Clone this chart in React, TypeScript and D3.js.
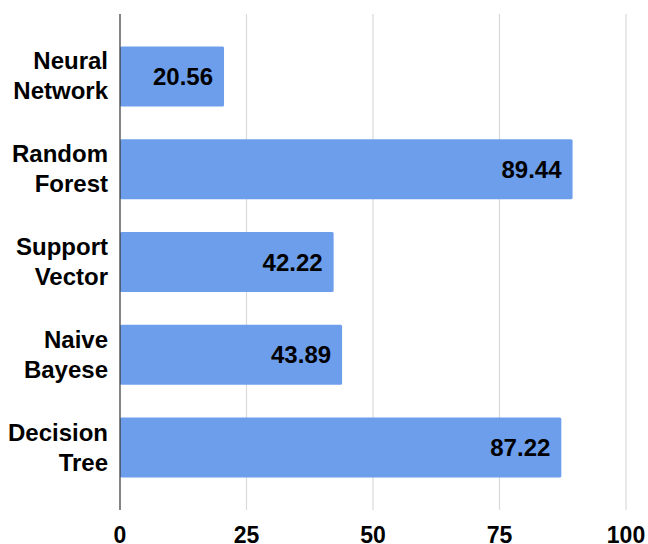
import React from "react";
import * as d3 from "d3";

const categories: string[][] = [
  ["Neural", "Network"],
  ["Random", "Forest"],
  ["Support", "Vector"],
  ["Naive", "Bayese"],
  ["Decision", "Tree"],
];
const values: number[] = [20.56, 89.44, 42.22, 43.89, 87.22];
const ticks: number[] = [0, 25, 50, 75, 100];

const W = 648;
const H = 544;
const left = 120;
const right = 626;
const top = 14;
const bottom = 510;
const font = "'Liberation Sans', Arial, Helvetica, sans-serif";

export default function App() {
  const keys = categories.map((c) => c.join(" "));
  const x = d3.scaleLinear().domain([0, 100]).range([left, right]);
  const y = d3
    .scaleBand<string>()
    .domain(keys)
    .range([top, bottom])
    .paddingInner(0.353)
    .paddingOuter(0.35);

  return (
    <svg
      width={W}
      height={H}
      style={{ position: "absolute", left: 0, top: 0 }}
      fontFamily={font}
    >
      <rect x={0} y={0} width={W} height={H} fill="#fff" />
      {ticks.slice(1).map((t) => (
        <line
          key={t}
          x1={x(t)}
          x2={x(t)}
          y1={top}
          y2={bottom}
          stroke="#d9d9d9"
          strokeWidth={1.2}
        />
      ))}
      {values.map((v, i) => {
        const yy = y(keys[i])!;
        const bw = y.bandwidth();
        const cy = yy + bw / 2;
        return (
          <g key={keys[i]}>
            <rect
              x={x(0)}
              y={yy}
              width={x(v) - x(0)}
              height={bw}
              fill="#6d9eeb"
              rx={1.5}
            />
            <text
              x={x(v) - 11}
              y={cy + 8.5}
              textAnchor="end"
              fontSize={24}
              fontWeight="bold"
              fill="#000"
            >
              {v.toFixed(2)}
            </text>
            <text
              x={108}
              y={cy - 7}
              textAnchor="end"
              fontSize={24}
              fontWeight="bold"
              fill="#000"
            >
              {categories[i][0]}
            </text>
            <text
              x={108}
              y={cy + 23}
              textAnchor="end"
              fontSize={24}
              fontWeight="bold"
              fill="#000"
            >
              {categories[i][1]}
            </text>
          </g>
        );
      })}
      <line
        x1={x(0)}
        x2={x(0)}
        y1={top}
        y2={bottom}
        stroke="#333"
        strokeWidth={1.2}
      />
      {ticks.map((t) => (
        <text
          key={t}
          x={x(t)}
          y={543}
          textAnchor="middle"
          fontSize={23}
          fontWeight="bold"
          fill="#000"
        >
          {t}
        </text>
      ))}
    </svg>
  );
}
